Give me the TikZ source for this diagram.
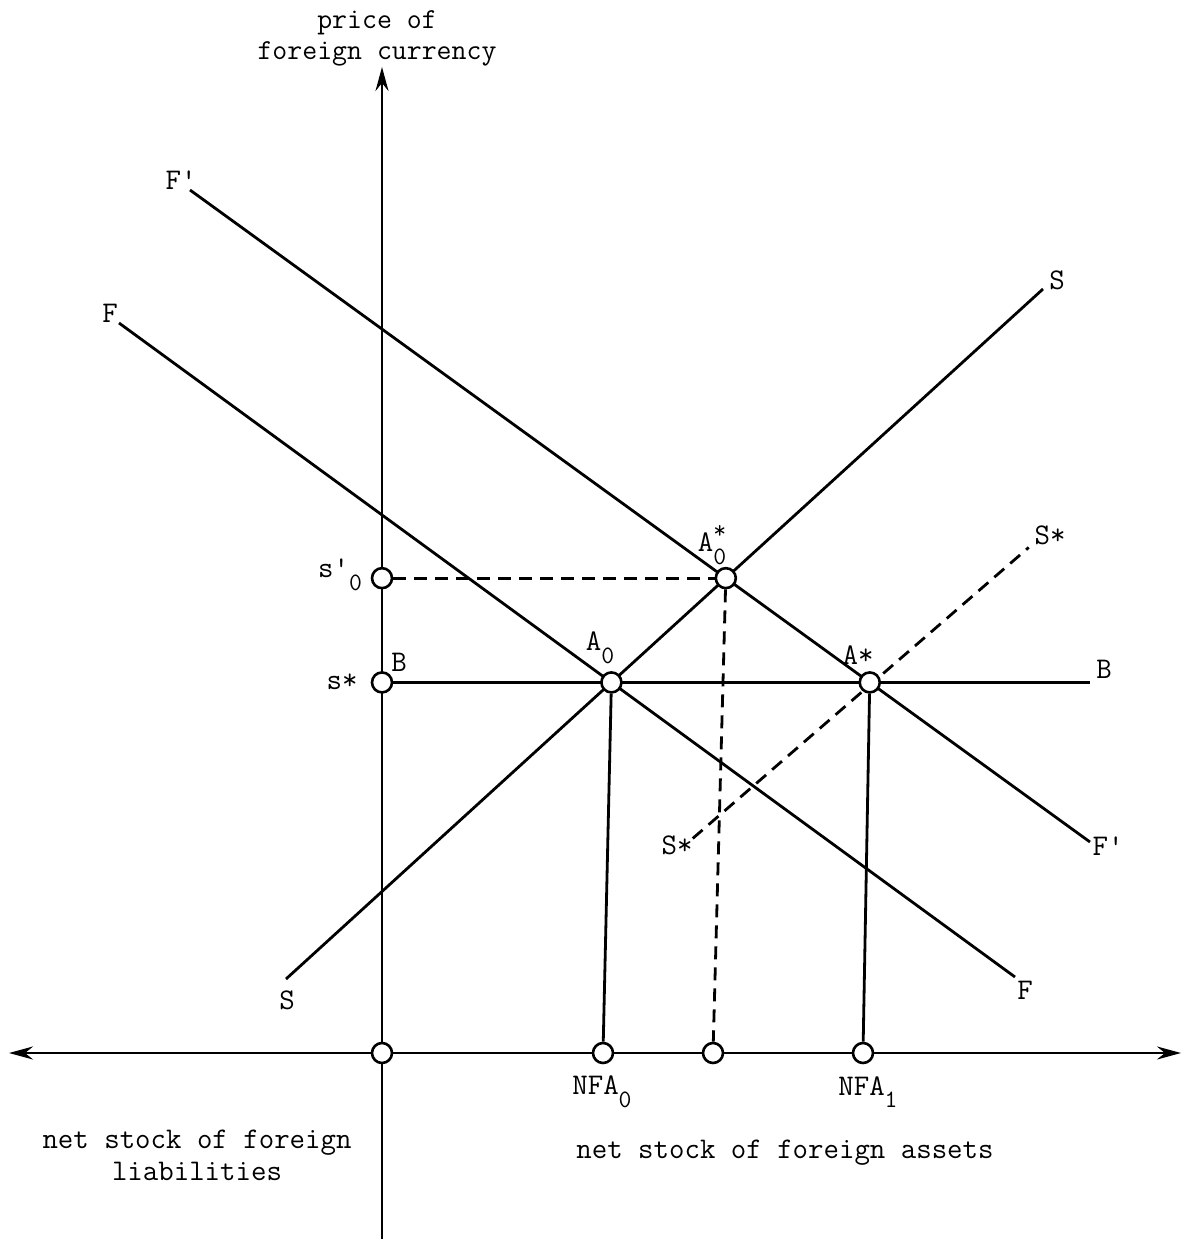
\documentclass[tikz,border=0pt]{standalone}
\usepackage{fontspec}
\usetikzlibrary{arrows.meta,calc,backgrounds}
\newcommand{\lsub}[1]{\raisebox{-0.42em}{\fontsize{25}{25}\selectfont #1}}
\newcommand{\lsup}[1]{\raisebox{0.45em}{\fontsize{25}{25}\selectfont #1}}
\newcommand{\lsubsup}[2]{\rlap{\lsup{#2}}\lsub{#1}}
\begin{document}
\begin{tikzpicture}[x=1pt,y=-1pt,
  curve/.style={line width=2.8pt},
  dashline/.style={line width=2.8pt, dash pattern=on 13pt off 8pt},
  ptcirc/.style={circle, draw, fill=white, inner sep=0pt, minimum size=20pt, line width=2.6pt},
  lab/.style={font=\ttfamily\fontsize{30}{32}\selectfont, inner sep=0pt},
  axtext/.style={font=\ttfamily\fontsize{29}{31}\selectfont, inner sep=0pt, align=center},
  axtextb/.style={font=\ttfamily\fontsize{30}{32}\selectfont, inner sep=0pt, align=center},
  ax/.style={line width=2.6pt},
  tipend/.style={-{Stealth[length=24pt,width=13pt,inset=8pt]}},
  tipboth/.style={{Stealth[length=24pt,width=13pt,inset=8pt]}-{Stealth[length=24pt,width=13pt,inset=8pt]}}
]
\useasboundingbox (0,0) rectangle (1184,1239);

% base coordinates
\coordinate (ytop) at (382,67);
\coordinate (ybot) at (382,1239);
\coordinate (xl) at (9,1053);
\coordinate (xr) at (1181,1053);
\coordinate (Fp1) at (190,190);
\coordinate (Fp2) at (1090,842);
\coordinate (F1) at (119,323);
\coordinate (F2) at (1015,977);
\coordinate (S1) at (286,979);
\coordinate (S2) at (1043,289);
\coordinate (A0c) at (intersection of F1--F2 and S1--S2);
\coordinate (A0sc) at (intersection of Fp1--Fp2 and S1--S2);
\coordinate (Bend) at (1090,0 |- A0c);
\coordinate (Asc) at (intersection of Fp1--Fp2 and A0c--Bend);
\coordinate (Ss1) at ($(Asc)+(-177,156)$);
\coordinate (Ss2) at ($(Asc)+(159,-135)$);

% points
\node[ptcirc] (O) at (382,1053) {};
\node[ptcirc] (sp) at (ytop |- A0sc) {};
\node[ptcirc] (ss) at (ytop |- A0c) {};
\node[ptcirc] (A0) at (A0c) {};
\node[ptcirc] (A0s) at (A0sc) {};
\node[ptcirc] (As) at (Asc) {};
\node[ptcirc] (N0) at (603,1053) {};
\node[ptcirc] (M) at (713,1053) {};
\node[ptcirc] (N1) at (863,1053) {};

\begin{pgfonlayer}{background}
  \draw[ax,tipboth] (xl) -- (xr);
  \draw[ax,tipend] (ybot) -- (ytop);
  \draw[curve] (Fp1) -- (Fp2);
  \draw[curve] (F1) -- (F2);
  \draw[curve] (S1) -- (S2);
  \draw[dashline] (Ss1) -- (Ss2);
  \draw[curve] (ss) -- (Bend);
  \draw[dashline] (sp) -- (A0s);
  \draw[dashline] (A0s) -- (M);
  \draw[curve] (A0) -- (N0);
  \draw[curve] (As) -- (N1);
\end{pgfonlayer}

% labels
\node[axtext] (ylab) at (377,38) {price of\\foreign currency};
\node[lab] (lFp1) at (181,180) {F'};
\node[lab] (lF1) at (110,313) {F};
\node[lab] (lS2) at (1057,280) {S};
\node[lab] (lS1) at (287,1000) {S};
\node[lab] (lSs2) at (1050,535) {S*};
\node[lab] (lSs1) at (677,845) {S*};
\node[lab] (lFp2) at (1108,846) {F'};
\node[lab] (lF2) at (1025,990) {F};
\node[lab] (lB2) at (1104,669) {B};
\node[lab] (lB1) at (399,662) {B};
\node[lab] (lsp) at (340,575) {s'\lsub{0}};
\node[lab] (lss) at (342,682) {s*};
\node[lab] (lA0) at (600,648) {A\lsub{0}};
\node[lab] (lA0s) at (712,545) {A\lsubsup{0}{*}};
\node[lab] (lAs) at (858,655) {A*};
\node[lab] (lN0) at (602,1092) {NFA\lsub{0}};
\node[lab] (lN1) at (868,1092) {NFA\lsub{1}};
\node[axtextb] (lliab) at (197,1155) {net stock of foreign\\liabilities};
\node[axtextb] (lassets) at (785,1153) {net stock of foreign assets};
\end{tikzpicture}
\end{document}
